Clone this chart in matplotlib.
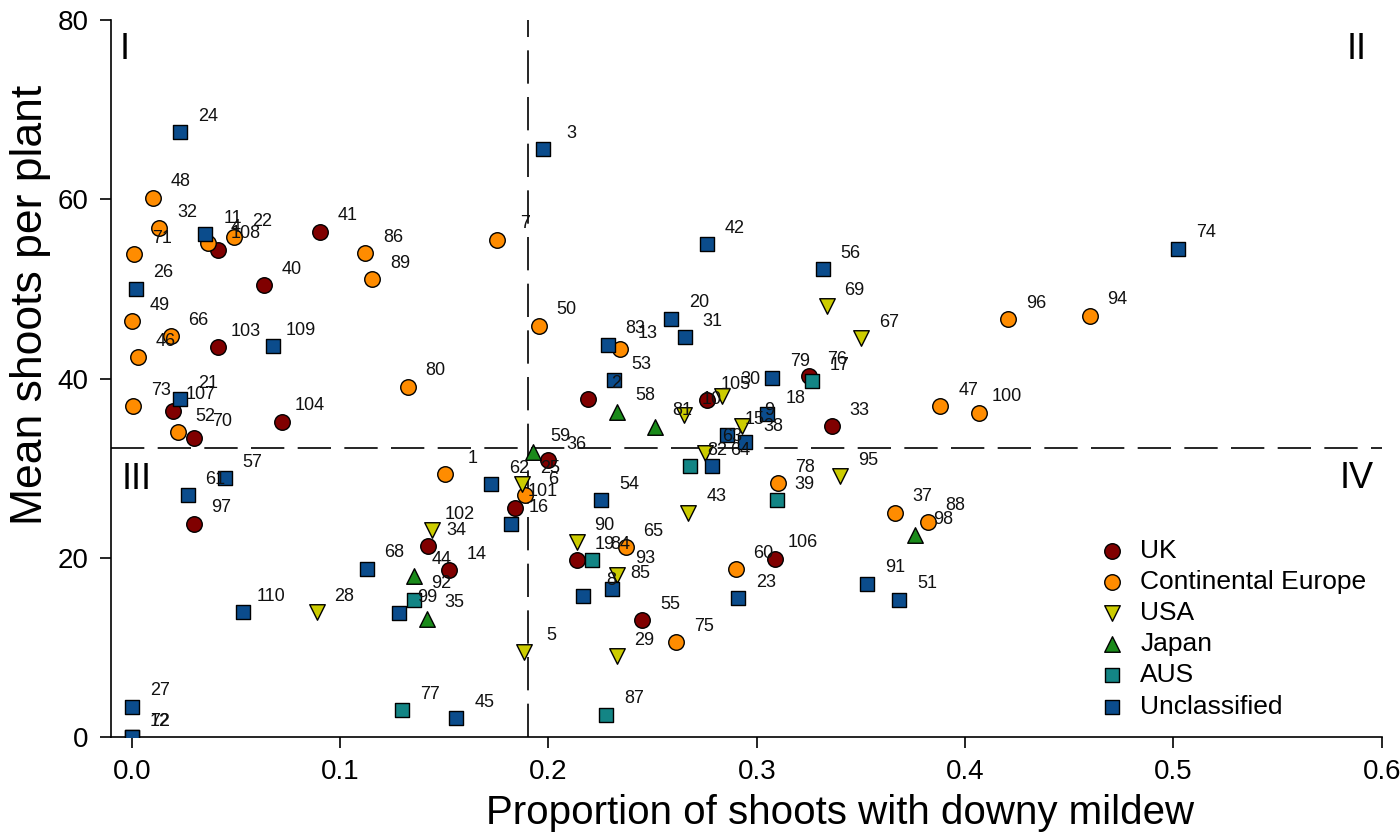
import matplotlib
matplotlib.use("Agg")
import matplotlib.pyplot as plt

plt.rcParams['font.family'] = ['Liberation Sans', 'DejaVu Sans']

# data: (id, proportion with mildew, mean shoots)
UK_ID = [41, 108, 40, 103, 107, 70, 104, 97, 34, 14, 101, 36, 2, 105, 76, 33, 19, 55, 106]
UK_X = [0.0904, 0.0415, 0.0635, 0.0413, 0.0199, 0.0298, 0.0721, 0.0297, 0.1422, 0.1521,
        0.1837, 0.1999, 0.2189, 0.2763, 0.3252, 0.3361, 0.2135, 0.2450, 0.3087]
UK_Y = [56.4, 54.4, 50.4, 43.5, 36.4, 33.4, 35.2, 23.8, 21.3, 18.6,
        25.6, 30.9, 37.7, 37.6, 40.3, 34.7, 19.7, 13.0, 19.9]

EU_ID = [48, 32, 71, 4, 22, 86, 89, 7, 49, 66, 46, 50, 80, 73, 52, 1, 6, 13, 65, 78,
         60, 75, 96, 94, 47, 100, 37, 88]
EU_X = [0.0102, 0.0131, 0.0010, 0.0367, 0.0490, 0.1120, 0.1154, 0.1753, 0.0001, 0.0186,
        0.0030, 0.1953, 0.1324, 0.0006, 0.0220, 0.1501, 0.1889, 0.2343, 0.2370, 0.3100,
        0.2899, 0.2611, 0.4208, 0.4598, 0.3881, 0.4066, 0.3663, 0.3821]
EU_Y = [60.2, 56.8, 53.9, 55.1, 55.8, 54.0, 51.1, 55.5, 46.4, 44.7,
        42.4, 45.9, 39.1, 36.9, 34.0, 29.3, 27.0, 43.3, 21.2, 28.3,
        18.7, 10.6, 46.6, 47.0, 36.9, 36.2, 25.0, 24.0]

USA_ID = [28, 102, 25, 5, 90, 93, 29, 43, 10, 30, 63, 9, 69, 67, 95]
USA_X = [0.0888, 0.1441, 0.1874, 0.1881, 0.2135, 0.2330, 0.2327, 0.2672, 0.2651, 0.2835,
         0.2750, 0.2928, 0.3335, 0.3500, 0.3400]
USA_Y = [13.9, 23.1, 28.2, 9.5, 21.8, 18.1, 9.0, 25.0, 35.9, 38.1,
         31.7, 34.7, 48.1, 44.5, 29.1]

JP_ID = [59, 44, 35, 58, 81, 98]
JP_X = [0.1926, 0.1352, 0.1417, 0.2330, 0.2511, 0.3760]
JP_Y = [31.8, 18.0, 13.2, 36.3, 34.6, 22.5]

AUS_ID = [92, 77, 84, 82, 39, 17, 87]
AUS_X = [0.1352, 0.1297, 0.2210, 0.2679, 0.3096, 0.3264, 0.2276]
AUS_Y = [15.3, 3.0, 19.7, 30.2, 26.4, 39.7, 2.5]

UN_ID = [24, 11, 26, 109, 21, 57, 61, 110, 27, 72, 12, 68, 99, 45, 62, 16, 3, 42, 20, 31,
         83, 53, 79, 56, 74, 18, 15, 38, 64, 54, 8, 85, 23, 91, 51]
UN_X = [0.0231, 0.0351, 0.0018, 0.0676, 0.0231, 0.0447, 0.0269, 0.0535, 0.0, 0.0, 0.0,
        0.1128, 0.1284, 0.1558, 0.1724, 0.1821, 0.1974, 0.2760, 0.2590, 0.2654,
        0.2285, 0.2314, 0.3075, 0.3316, 0.5022, 0.3051, 0.2856, 0.2944, 0.2787, 0.2253,
        0.2167, 0.2306, 0.2912, 0.3529, 0.3683]
UN_Y = [67.5, 56.1, 50.0, 43.6, 37.7, 28.9, 27.0, 13.9, 3.4, 0.0, 0.0,
        18.8, 13.8, 2.1, 28.2, 23.8, 65.6, 55.0, 46.7, 44.6,
        43.8, 39.8, 40.1, 52.2, 54.5, 36.0, 33.7, 32.9, 30.2, 26.4,
        15.7, 16.5, 15.5, 17.1, 15.3]

X_CUT = 0.19
Y_CUT = 32.3

groups = [
    ("UK", UK_ID, UK_X, UK_Y, 'o', '#800000', 125),
    ("Continental Europe", EU_ID, EU_X, EU_Y, 'o', '#FF8C00', 125),
    ("USA", USA_ID, USA_X, USA_Y, 'v', '#CCCC00', 125),
    ("Japan", JP_ID, JP_X, JP_Y, '^', '#1A8A1A', 125),
    ("AUS", AUS_ID, AUS_X, AUS_Y, 's', '#138585', 100),
    ("Unclassified", UN_ID, UN_X, UN_Y, 's', '#0B4C8C', 100),
]

fig = plt.figure(figsize=(14, 8.39), dpi=100)
ax = fig.add_axes([0.079, 0.1216, 0.908, 0.8544])

for name, ids, xs, ys, mk, col, sz in groups:
    ax.scatter(xs, ys, s=sz, marker=mk, c=col, edgecolors='black', linewidths=1.0,
               label=name, zorder=3)
    for i, x, y in zip(ids, xs, ys):
        ax.annotate(str(i), (x, y), xytext=(20, 11.5), textcoords='offset points',
                    ha='center', va='center', fontsize=13, color='#111111', zorder=4)

# quadrant cut lines
ax.axvline(X_CUT, color='black', lw=1.2, dashes=(20, 8), zorder=2)
ax.axhline(Y_CUT, color='black', lw=1.2, dashes=(20, 8), zorder=2)

for txt, qx, qy in [("I", -0.0034, 76.7), ("II", 0.588, 76.7),
                    ("III", 0.0024, 28.7), ("IV", 0.588, 28.9)]:
    ax.text(qx, qy, txt, ha='center', va='center', fontsize=26)

ax.set_xlim(-0.0102, 0.6)
ax.set_ylim(0, 80)
ax.set_xticks([0.0, 0.1, 0.2, 0.3, 0.4, 0.5, 0.6])
ax.set_xticklabels(["0.0", "0.1", "0.2", "0.3", "0.4", "0.5", "0.6"])
ax.set_yticks([0, 20, 40, 60, 80])
ax.tick_params(labelsize=20, length=8, width=1.2, direction='out', pad=8)
ax.spines['top'].set_visible(False)
ax.spines['right'].set_visible(False)
ax.spines['left'].set_linewidth(1.2)
ax.spines['bottom'].set_linewidth(1.2)

ax.set_xlabel("Proportion of shoots with downy mildew", fontsize=29)
ax.set_ylabel("Mean shoots per plant", fontsize=32)
ax.xaxis.set_label_coords(0.5738, -0.079)
ax.yaxis.set_label_coords(-0.047, 0.6025)

ax.legend(loc='lower right', frameon=False, fontsize=19, handlelength=1.6,
          handletextpad=0.28, labelspacing=0.27, borderaxespad=0.3,
          bbox_to_anchor=(1.0025, 0.0))

fig.savefig("out.png", dpi=100)
